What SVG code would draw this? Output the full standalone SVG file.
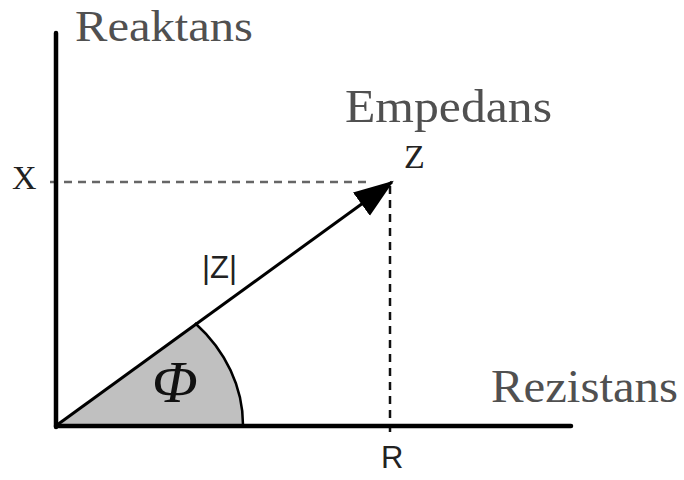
<svg xmlns="http://www.w3.org/2000/svg" width="684" height="480" viewBox="0 0 684 480">
  <defs>
    <marker id="ah" markerUnits="userSpaceOnUse" markerWidth="40" markerHeight="30" viewBox="0 0 36 26" refX="34" refY="13" orient="auto">
      <path d="M0,0 L36,13 L0,26 Z" fill="#000"/>
    </marker>
    <style>
      .title { font-family: "Liberation Serif", "Times New Roman", serif; font-size: 47px; fill: #505050; }
      .lbl { font-family: "Liberation Serif", "Times New Roman", serif; font-size: 34px; fill: #222; }
      .sans { font-family: "Liberation Sans", Arial, sans-serif; font-size: 31px; fill: #222; }
      .axis { stroke: #000; stroke-width: 4.5; stroke-linecap: round; fill: none; }
      .dash { stroke-width: 2.5; stroke-dasharray: 8 6; fill: none; }
    </style>
  </defs>
  <rect width="684" height="480" fill="#fff"/>

  <g id="angle">
    <path d="M57,425 L195,323 A186,152 0 0 1 243,425 Z" fill="#c0c0c0" stroke="none"/>
    <path d="M195,323 A186,152 0 0 1 243,425" fill="none" stroke="#000" stroke-width="2.5"/>
    <text x="152" y="402" font-family="'Liberation Serif', 'Times New Roman', serif" font-style="italic" font-size="60" fill="#111">Φ</text>
  </g>

  <g id="connectors">
    <line class="dash" x1="50" y1="182" x2="372" y2="182" stroke="#666"/>
    <line class="dash" x1="390" y1="186" x2="390" y2="432" stroke="#111"/>
    <line x1="57" y1="425" x2="392" y2="182" stroke="#000" stroke-width="3" marker-end="url(#ah)"/>
  </g>

  <g id="axes">
    <line class="axis" x1="56" y1="33" x2="56" y2="427"/>
    <line class="axis" x1="56" y1="426" x2="571" y2="426"/>
  </g>

  <g id="reaktans"><text class="title" x="75" y="41" font-size="45" style="font-size:45px" textLength="178" lengthAdjust="spacingAndGlyphs">Reaktans</text></g>
  <g id="empedans"><text class="title" x="345" y="122" textLength="207" lengthAdjust="spacingAndGlyphs">Empedans</text></g>
  <g id="rezistans"><text class="title" x="491" y="402" textLength="187" lengthAdjust="spacingAndGlyphs">Rezistans</text></g>
  <g id="z"><text class="lbl" x="404" y="168">Z</text></g>
  <g id="x"><text class="lbl" x="12" y="189">X</text></g>
  <g id="absz"><text class="sans" x="202" y="278">|Z|</text></g>
  <g id="r"><text class="sans" x="381" y="468">R</text></g>
</svg>
